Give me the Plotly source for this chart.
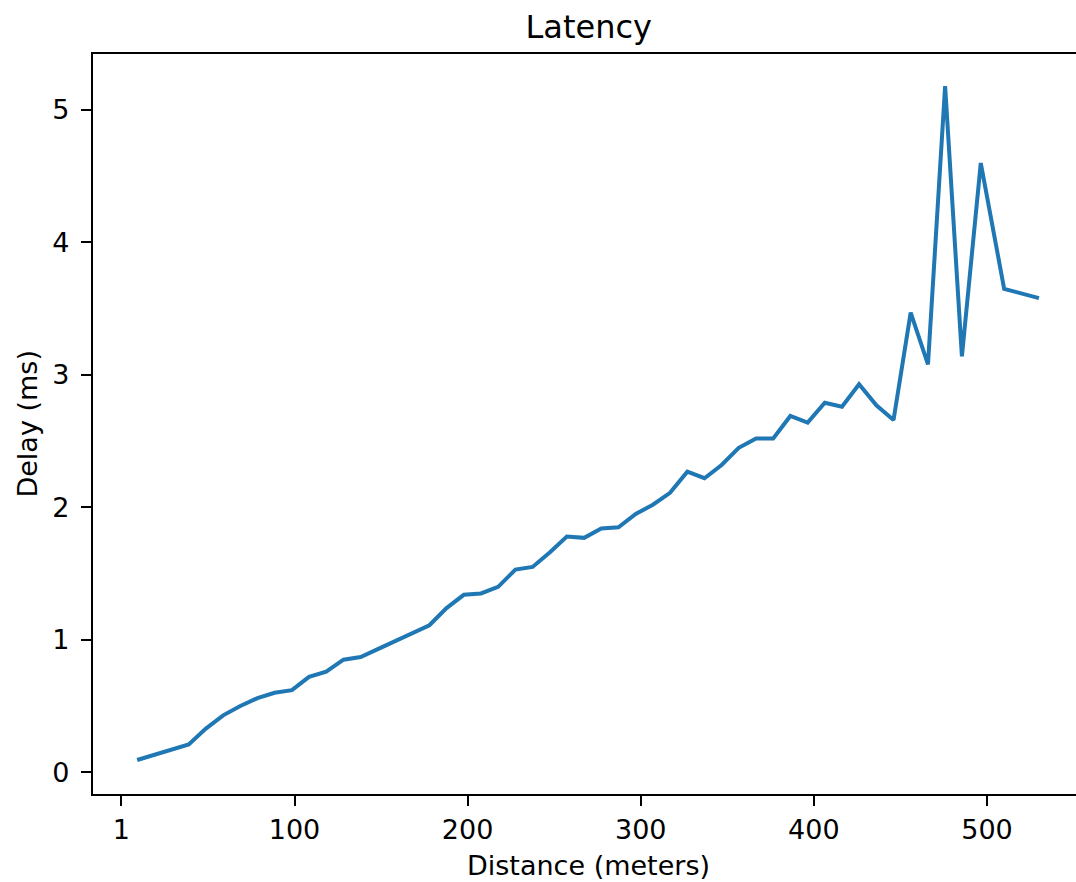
import plotly.graph_objects as go

# Measured delay versus distance
distance_m = [9.1, 19.0, 29.0, 38.9, 48.8, 58.8, 68.7, 78.6, 88.5, 98.5,
              108.4, 118.3, 128.3, 138.2, 148.1, 158.0, 168.0, 177.9, 187.8, 197.8,
              207.7, 217.6, 227.6, 237.5, 247.4, 257.3, 267.3, 277.2, 287.1, 297.1,
              307.0, 316.9, 326.9, 336.8, 346.7, 356.6, 366.6, 376.5, 386.4, 396.4,
              406.3, 416.2, 426.1, 436.1, 446.0, 455.9, 465.9, 475.8, 485.5, 496.4,
              509.9, 530.0]
delay_ms = [0.093, 0.13, 0.17, 0.21, 0.33, 0.43, 0.50, 0.56, 0.60, 0.62,
            0.72, 0.76, 0.85, 0.87, 0.93, 0.99, 1.05, 1.11, 1.24, 1.34,
            1.35, 1.40, 1.53, 1.55, 1.66, 1.78, 1.77, 1.84, 1.85, 1.95,
            2.02, 2.11, 2.27, 2.22, 2.32, 2.45, 2.52, 2.52, 2.69, 2.64,
            2.79, 2.76, 2.93, 2.77, 2.66, 3.47, 3.08, 5.18, 3.14, 4.60,
            3.65, 3.58]

x_tick_vals = [0, 100, 200, 300, 400, 500]
x_tick_text = ["1", "100", "200", "300", "400", "500"]
y_tick_vals = [0, 1, 2, 3, 4, 5]

FONT = "DejaVu Sans"
W, H = 1076, 882
M_L, M_R, M_T, M_B = 92.5, 0, 54, 88

fig = go.Figure()
fig.add_trace(go.Scatter(
    x=distance_m, y=delay_ms, mode="lines",
    line=dict(color="#1f77b4", width=4),
    showlegend=False,
))

axis_common = dict(
    showline=True, linecolor="black", linewidth=2.2,
    ticks="outside", ticklen=10, tickwidth=2.2, tickcolor="black",
    showgrid=False, zeroline=False,
    tickfont=dict(family=FONT, size=27, color="black"),
)

fig.update_xaxes(
    range=[-16.4, 551.4], tickvals=x_tick_vals, ticktext=x_tick_text,
    mirror=True, ticklabelstandoff=0, **axis_common,
)
fig.update_yaxes(
    range=[-0.164, 5.423], tickvals=y_tick_vals,
    mirror=False, ticklabelstandoff=6, **axis_common,
)

plot_w = W - M_L - M_R
plot_h = H - M_T - M_B
axes_center_px = (M_L + 1085) / 2

fig.update_layout(
    width=W, height=H,
    margin=dict(l=M_L, r=M_R, t=M_T, b=M_B, pad=0),
    paper_bgcolor="white", plot_bgcolor="white",
    font=dict(family=FONT, color="black"),
    title=dict(
        text="Latency", font=dict(family=FONT, size=32, color="black"),
        xref="container", yref="container",
        x=axes_center_px / W, y=1 - 27 / H,
        xanchor="center", yanchor="middle",
    ),
    annotations=[
        dict(text="Distance (meters)", showarrow=False,
             xref="paper", yref="paper",
             x=(axes_center_px - M_L) / plot_w, y=-(866 - (H - M_B)) / plot_h,
             xanchor="center", yanchor="middle",
             font=dict(family=FONT, size=27, color="black")),
        dict(text="Delay (ms)", showarrow=False, textangle=-90,
             xref="paper", yref="paper",
             x=-(M_L - 26) / plot_w, y=0.5,
             xanchor="center", yanchor="middle",
             font=dict(family=FONT, size=27, color="black")),
    ],
)

fig.write_html("out.html")
